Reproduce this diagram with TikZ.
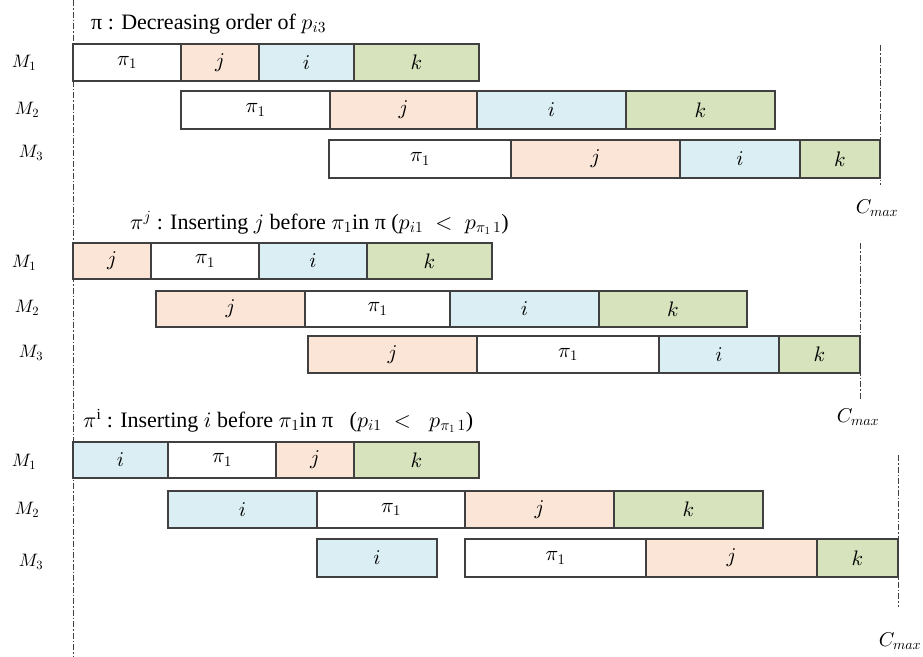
\documentclass[tikz,border=0pt]{standalone}
\usepackage{fontspec}
\setmainfont{Liberation Serif}
\DeclareFontShape{OML}{cmm}{m}{it}{<->cmmi10}{}
\DeclareFontShape{OMS}{cmsy}{m}{n}{<->cmsy10}{}
\DeclareFontShape{OT1}{cmr}{m}{n}{<->cmr10}{}
\definecolor{cpeach}{HTML}{FBE5D6}
\definecolor{cblue}{HTML}{DAEEF3}
\definecolor{cgreen}{HTML}{D6E3BC}
\definecolor{cline}{HTML}{404040}
\newcommand\gcell[7]{\node[cellbox,fill=#6,minimum width={#3pt-#2pt},minimum height={#5pt-#4pt}] (#1) at ({(#2+#3)/2},{(#4+#5)/2}) {#7};}
\begin{document}
\begin{tikzpicture}[x=1pt,y=-1pt,
  cellbox/.style={draw=cline,line width=1.3pt,inner sep=0pt,outer sep=0pt,font=\fontsize{21}{24}\selectfont},
  titletext/.style={anchor=west,inner sep=0pt,font=\fontsize{22}{25}\selectfont},
  mlabel/.style={inner sep=0pt,font=\fontsize{18}{21}\selectfont},
  cmaxlabel/.style={inner sep=0pt,font=\fontsize{20}{23}\selectfont},
  dashdotline/.style={draw=cline,line width=1pt,dash pattern=on 6pt off 2pt on 1.5pt off 2pt}]
\useasboundingbox (0,0) rectangle (923,656);
% left axis
\coordinate (axtop) at (73,0);
\coordinate (axbot) at (73,656);
\draw[dashdotline] (axtop) -- (axbot);
% ===== block 1 =====
\node[titletext] (t1) at (91,24) {π : Decreasing order of $p_{i3}$};
\node[mlabel] (a1) at (24,63) {$M_1$};
\node[mlabel] (a2) at (27,110) {$M_2$};
\node[mlabel] (a3) at (31,153) {$M_3$};
\gcell{a11}{73}{181}{44}{81}{white}{$\pi_1$}
\gcell{a12}{181}{259}{44}{81}{cpeach}{$j$}
\gcell{a13}{259}{354}{44}{81}{cblue}{$i$}
\gcell{a14}{354}{479}{44}{81}{cgreen}{$k$}
\gcell{a21}{181}{330}{91}{129}{white}{$\pi_1$}
\gcell{a22}{330}{477}{91}{129}{cpeach}{$j$}
\gcell{a23}{477}{626}{91}{129}{cblue}{$i$}
\gcell{a24}{626}{775}{91}{129}{cgreen}{$k$}
\gcell{a31}{329}{511}{140}{178}{white}{$\pi_1$}
\gcell{a32}{511}{680}{140}{178}{cpeach}{$j$}
\gcell{a33}{680}{800}{140}{178}{cblue}{$i$}
\gcell{a34}{800}{880}{140}{178}{cgreen}{$k$}
\coordinate (c1top) at (880,45);
\coordinate (c1bot) at (880,185);
\draw[dashdotline] (c1top) -- (c1bot);
\node[cmaxlabel] (cm1) at (877,208) {$C_{max}$};
% ===== block 2 =====
\node[titletext] (t2) at (130,223) {$\pi^{j}$ : Inserting $j$ before $\pi_1$in π ($p_{i1}\;<\;p_{\pi_1\,1}$)};
\node[mlabel] (b1) at (24,263) {$M_1$};
\node[mlabel] (b2) at (27,308) {$M_2$};
\node[mlabel] (b3) at (31,353) {$M_3$};
\gcell{b11}{73}{151}{243}{279}{cpeach}{$j$}
\gcell{b12}{151}{259}{243}{279}{white}{$\pi_1$}
\gcell{b13}{259}{367}{243}{279}{cblue}{$i$}
\gcell{b14}{367}{492}{243}{279}{cgreen}{$k$}
\gcell{b21}{156}{305}{291}{327}{cpeach}{$j$}
\gcell{b22}{305}{450}{291}{327}{white}{$\pi_1$}
\gcell{b23}{450}{599}{291}{327}{cblue}{$i$}
\gcell{b24}{599}{747}{291}{327}{cgreen}{$k$}
\gcell{b31}{308}{477}{336}{373}{cpeach}{$j$}
\gcell{b32}{477}{659}{336}{373}{white}{$\pi_1$}
\gcell{b33}{659}{779}{336}{373}{cblue}{$i$}
\gcell{b34}{779}{860}{336}{373}{cgreen}{$k$}
\coordinate (c2top) at (860,243);
\coordinate (c2bot) at (860,400);
\draw[dashdotline] (c2top) -- (c2bot);
\node[cmaxlabel] (cm2) at (858,417) {$C_{max}$};
% ===== block 3 =====
\node[titletext] (t3) at (83,421) {$\pi^{\mathrm{i}}$ : Inserting $i$ before $\pi_1$in π \ \ ($p_{i1}\;<\;\;p_{\pi_1\,1}$)};
\node[mlabel] (c1) at (24,462) {$M_1$};
\node[mlabel] (c2) at (27,510) {$M_2$};
\node[mlabel] (c3) at (31,562) {$M_3$};
\gcell{c11}{73}{168}{442}{478}{cblue}{$i$}
\gcell{c12}{168}{276}{442}{478}{white}{$\pi_1$}
\gcell{c13}{276}{354}{442}{478}{cpeach}{$j$}
\gcell{c14}{354}{479}{442}{478}{cgreen}{$k$}
\gcell{c21}{168}{317}{491}{528}{cblue}{$i$}
\gcell{c22}{317}{465}{491}{528}{white}{$\pi_1$}
\gcell{c23}{465}{614}{491}{528}{cpeach}{$j$}
\gcell{c24}{614}{763}{491}{528}{cgreen}{$k$}
\gcell{c31}{317}{437}{539}{577}{cblue}{$i$}
\gcell{c32}{465}{646}{539}{577}{white}{$\pi_1$}
\gcell{c33}{646}{817}{539}{577}{cpeach}{$j$}
\gcell{c34}{817}{898}{539}{577}{cgreen}{$k$}
\coordinate (c3top) at (898,455);
\coordinate (c3bot) at (898,607);
\draw[dashdotline] (c3top) -- (c3bot);
\node[cmaxlabel] (cm3) at (900,641) {$C_{max}$};
\end{tikzpicture}
\end{document}
